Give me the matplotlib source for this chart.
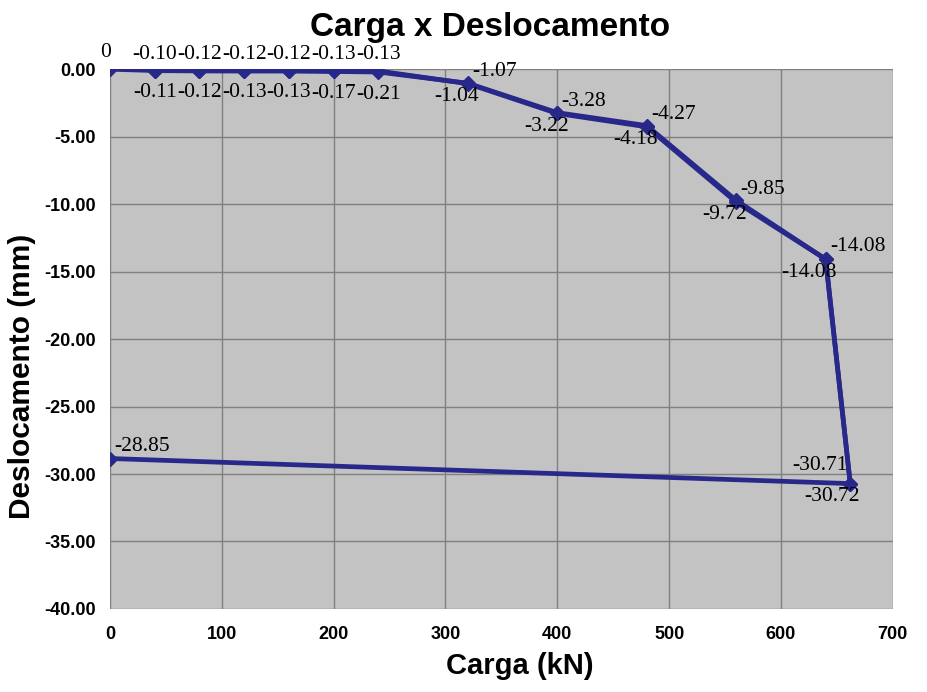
import matplotlib.pyplot as plt

# %% Data
carga = [0, 40, 80, 120, 160, 200, 240, 320, 400, 480, 560, 640, 662, 0]
desl_sup = [0, -0.10, -0.12, -0.12, -0.12, -0.13, -0.13, -1.07, -3.28, -4.27, -9.85, -14.08, -30.71, -28.85]

carga_inf = [40, 80, 120, 160, 200, 240, 320, 400, 480, 560, 640, 662]
desl_inf = [-0.11, -0.12, -0.13, -0.13, -0.17, -0.21, -1.04, -3.22, -4.18, -9.72, -14.08, -30.72]

x_ticks = [0, 100, 200, 300, 400, 500, 600, 700]
y_ticks = [0, -5, -10, -15, -20, -25, -30, -35, -40]

cor = "#28288a"

# %% Plot
fig = plt.figure(figsize=(9.28, 6.92), dpi=100)
ax = fig.add_axes([0.1185, 0.12, 0.8435, 0.78])
ax.set_facecolor("#c3c3c3")

ax.plot(carga, desl_sup, color=cor, lw=3.4, marker="D", ms=7, zorder=3)
ax.plot(carga_inf, desl_inf, color=cor, lw=3.4, marker="D", ms=7, zorder=3)

lbl_font = dict(family="Liberation Serif", fontsize=15.5, color="black", zorder=4)

# labels above
for i, (x, y) in enumerate(zip(carga, desl_sup)):
    txt = "0" if y == 0 else f"{y:.2f}"
    if i == 0:
        ax.annotate(txt, (x, y), xytext=(-3, 5), textcoords="offset points", ha="center", va="bottom", **lbl_font)
    elif i <= 6:
        ax.annotate(txt, (x, y), xytext=(0, 5), textcoords="offset points", ha="center", va="bottom", **lbl_font)
    elif i == 12:
        ax.annotate(txt, (x, y), xytext=(-2, 6), textcoords="offset points", ha="right", va="bottom", **lbl_font)
    else:
        ax.annotate(txt, (x, y), xytext=(3, 2), textcoords="offset points", ha="left", va="bottom", **lbl_font)

# labels below
for i, (x, y) in enumerate(zip(carga_inf, desl_inf)):
    txt = f"{y:.2f}"
    if i <= 5:
        ax.annotate(txt, (x, y), xytext=(0, -9), textcoords="offset points", ha="center", va="top", **lbl_font)
    elif i == 11:
        ax.annotate(txt, (x, y), xytext=(7, -2), textcoords="offset points", ha="right", va="top", **lbl_font)
    else:
        ax.annotate(txt, (x, y), xytext=(8, -3), textcoords="offset points", ha="right", va="top", **lbl_font)

ax.set_xlim(0, 700)
ax.set_ylim(-40, 0)
ax.set_xticks(x_ticks)
ax.set_yticks(y_ticks)
ax.set_yticklabels([f"{v:.2f}" for v in y_ticks])
ax.grid(True, color="#808080", lw=1)
ax.set_axisbelow(True)
for s in ax.spines.values():
    s.set_visible(False)
ax.tick_params(length=0, labelsize=13)
ax.tick_params(axis="x", pad=12)
ax.tick_params(axis="y", pad=10)
for lab in ax.get_xticklabels() + ax.get_yticklabels():
    lab.set_fontweight("bold")
    lab.set_family("Liberation Sans")

ax.set_xlabel("Carga (kN)", fontsize=21, fontweight="bold", family="Liberation Sans", labelpad=4)
ax.xaxis.set_label_coords(0.524, -0.08)
ax.set_ylabel("Deslocamento (mm)", fontsize=21.5, fontweight="bold", family="Liberation Sans", labelpad=8)
ax.yaxis.set_label_coords(-0.095, 0.43)
ax.set_title("Carga x Deslocamento", fontsize=24, fontweight="bold", family="Liberation Sans", pad=24, x=0.485)

fig.savefig("out.png", dpi=100)
